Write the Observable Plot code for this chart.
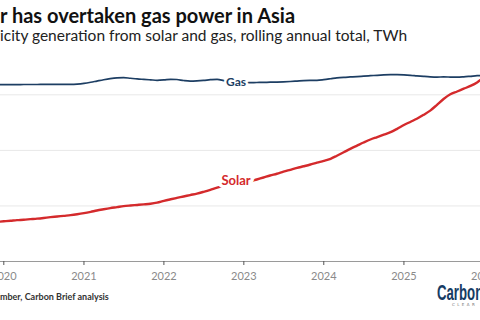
<!DOCTYPE html>
<html>
<head>
<meta charset="utf-8">
<script src="https://cdn.jsdelivr.net/npm/d3@7"></script>
<script src="https://cdn.jsdelivr.net/npm/@observablehq/plot@0.6"></script>
<style>
  html, body { margin: 0; padding: 0; background: #fff; width: 480px; height: 320px; overflow: hidden; }
  body { position: relative; font-family: Lato, "Open Sans", sans-serif; }
  .title { position: absolute; left: -36px; top: 5px; font-size: 20px; line-height: 20px; font-weight: 700; color: #111; white-space: nowrap; }
  .subtitle { position: absolute; left: -35px; top: 27.5px; font-size: 15.5px; line-height: 15.5px; color: #222; white-space: nowrap; }
  .source { position: absolute; left: -40px; top: 291.5px; font-size: 9px; line-height: 10px; font-weight: 700; color: #333; white-space: nowrap; }
  #chart { position: absolute; left: -44px; top: 50px; width: 567px; }
  #chart svg { max-width: none; }
  .logo { position: absolute; left: 437px; top: 284px; white-space: nowrap; }
  .logo .word { display: inline-block; transform: scaleX(0.6); transform-origin: 0 0; font-family: "Liberation Sans", Arial, sans-serif; font-weight: 700; font-size: 22px; line-height: 16px; color: #163c64; }
  .logo .tag { position: absolute; left: 15px; top: 19px; font-family: "DejaVu Sans", sans-serif; font-size: 4px; line-height: 4px; letter-spacing: 2.4px; color: #777; }
</style>
</head>
<body>
<div class="title" data-cut="Sola">Solar has overtaken gas power in Asia</div>
<div class="subtitle" data-cut="Electr">Electricity generation from solar and gas, rolling annual total, TWh</div>
<div id="chart"></div>
<div class="source" data-cut="Source: E">Source: Ember, Carbon Brief analysis</div>
<div class="logo"><span class="word">CarbonBrief</span><div class="tag">CLEAR ON CLIMATE</div></div>
<script>
// Rolling annual totals (TWh), one value per month from Dec 2019 to Jan 2026
const firstMonth = "2019-12-01";

const solar = [
  357,
  362, 367, 372, 376, 381, 386, 392, 399, 405, 411, 417, 425,
  435, 447, 459, 470, 480, 489, 498, 504, 509, 514, 520, 530,
  546, 560, 572, 585, 598, 611, 627, 645, 665, 680, 690, 697,
  708, 721, 738, 756, 774, 790, 808, 825, 842, 857, 873, 890,
  905, 924, 952, 983, 1014, 1043, 1071, 1098, 1120, 1142, 1164, 1194,
  1228, 1258, 1285, 1320, 1358, 1410, 1462, 1505, 1530, 1555, 1580, 1612,
  1660
];

const gas = [
  1592,
  1591, 1592, 1592, 1593, 1593, 1593, 1594, 1594, 1594, 1595, 1595, 1597,
  1603, 1613, 1624, 1636, 1646, 1653, 1655, 1649, 1643, 1639, 1635, 1631,
  1634, 1640, 1638, 1629, 1624, 1626, 1630, 1636, 1640, 1628, 1614, 1610,
  1609, 1610, 1611, 1612, 1614, 1615, 1617, 1620, 1624, 1628, 1630, 1631,
  1637, 1645, 1653, 1658, 1661, 1664, 1668, 1672, 1676, 1679, 1681, 1682,
  1680, 1676, 1671, 1666, 1662, 1660, 1661, 1660, 1659, 1662, 1667, 1672,
  1675
];

const yearTicks = [2020, 2021, 2022, 2023, 2024, 2025, 2026];
const gridValues = [500, 1000, 1500];

const seriesNames = ["Solar", "Gas"];
const seriesColors = ["#d42a2c", "#1d3e63"];
// Month at which each series name is written on its line
const labelMonth = "2022-12-01";

// Heading lines are set so that the given leading characters sit off the left edge
for (const el of document.querySelectorAll("[data-cut]")) {
  const cs = getComputedStyle(el);
  const ctx = document.createElement("canvas").getContext("2d");
  ctx.font = `${cs.fontWeight} ${cs.fontSize} ${cs.fontFamily}`;
  el.style.left = -ctx.measureText(el.dataset.cut).width + "px";
}

const start = new Date(firstMonth + "T00:00:00Z");
const toRows = (values, name) =>
  values.map((v, i) => ({ date: d3.utcMonth.offset(start, i), value: v, series: name }));

const solarRows = toRows(solar, "Solar");
const gasRows = toRows(gas, "Gas");
const atLabel = r => +r.date === +new Date(labelMonth + "T00:00:00Z");

const lineLabel = (data, size, dy, halo) => Plot.text(data.filter(atLabel), {
  x: "date", y: "value", text: "series", fill: "series",
  stroke: "white", strokeWidth: halo, fontWeight: 700,
  fontSize: size, dx: -1, dy, textAnchor: "middle"
});

const chart = Plot.plot({
  width: 567,
  height: 241,
  marginLeft: 7,
  marginRight: 0,
  marginTop: 11,
  marginBottom: 30,
  style: { fontFamily: "Lato, 'Open Sans', sans-serif", background: "transparent", maxWidth: "none" },
  x: {
    type: "utc",
    domain: [new Date(Date.UTC(2019, 6, 1)), new Date(Date.UTC(2026, 6, 1))]
  },
  y: { domain: [0, 1800] },
  color: { domain: seriesNames, range: seriesColors },
  marks: [
    Plot.ruleY(gridValues, { stroke: "#e8e8e8", strokeWidth: 1 }),
    Plot.ruleY([0], { stroke: "#9a9a9a", strokeWidth: 1.2 }),
    Plot.axisX(yearTicks.map(y => new Date(Date.UTC(y, 0, 1))), {
      tickFormat: d3.utcFormat("%Y"),
      tickSize: 4,
      tickPadding: 7,
      stroke: "#555",
      fill: "#8a8a8a",
      fontSize: 11,
      label: null
    }),
    Plot.line(gasRows, { x: "date", y: "value", stroke: "series", strokeWidth: 1.7, curve: "monotone-x" }),
    Plot.line(solarRows, { x: "date", y: "value", stroke: "series", strokeWidth: 2.4, curve: "monotone-x" }),
    lineLabel(gasRows, 12, 0, 5),
    lineLabel(solarRows, 13, -3, 7)
  ]
});

document.getElementById("chart").appendChild(chart);
</script>
</body>
</html>
